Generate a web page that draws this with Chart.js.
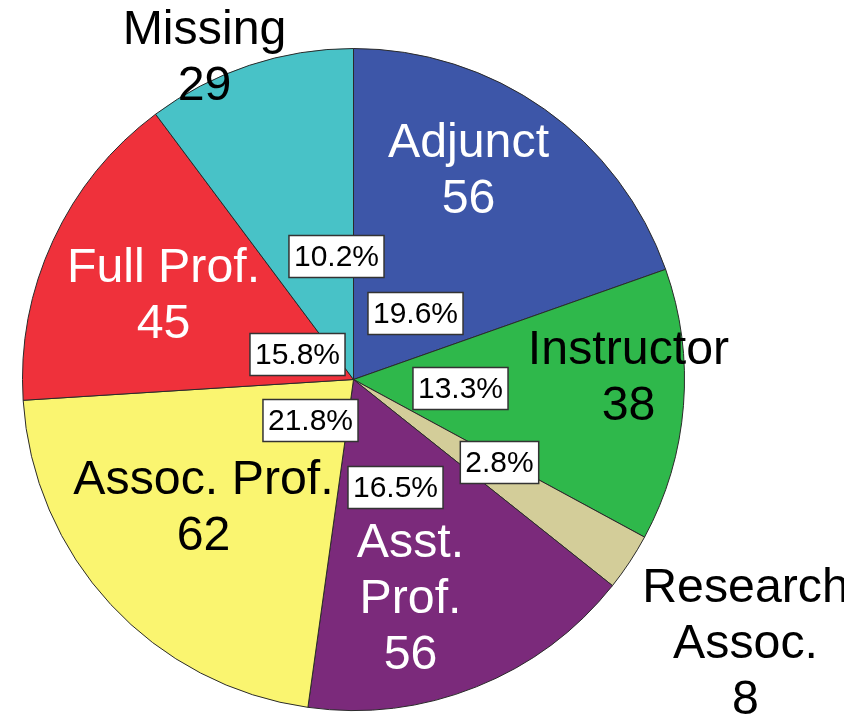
<!DOCTYPE html>
<html>
<head>
<meta charset="utf-8">
<script src="https://cdn.jsdelivr.net/npm/chart.js@4.4.1/dist/chart.umd.min.js"></script>
<style>
  html, body { margin: 0; padding: 0; background: #ffffff; }
  #wrap { width: 844px; height: 722px; position: relative; }
</style>
</head>
<body>
<div id="wrap"><canvas id="pieChart" width="844" height="722"></canvas></div>
<script>
// Slices, clockwise from 12 o'clock
const categories = ['Adjunct', 'Instructor', 'Research Assoc.', 'Asst. Prof.', 'Assoc. Prof.', 'Full Prof.', 'Missing'];
const counts = ['56', '38', '8', '56', '62', '45', '29'];     // count text printed in the chart
const percents = [19.6, 13.3, 2.8, 16.5, 21.8, 15.8, 10.2];   // slice sizes (%)

const sliceColors = ['#3d56a8', '#2fb84b', '#d3cd99', '#7b2a7b', '#faf570', '#ef313b', '#48c2c7'];
const nameColors = ['#ffffff', '#000000', '#000000', '#ffffff', '#000000', '#ffffff', '#000000'];

// Name label lines and offsets from pie centre (px)
const nameLines = [
    ['Adjunct'], ['Instructor'], ['Research', 'Assoc.'], ['Asst.', 'Prof.'],
    ['Assoc. Prof.'], ['Full Prof.'], ['Missing']
];
const nameOffsets = [[115, -236], [275, -29], [392, 209], [57, 164], [-150, 101], [-190, -111], [-149, -349]];
const pctOffsets = [[62, -66], [107, 9], [146, 83], [42, 108], [-43, 41], [-56, -25], [-17, -123]];

const labelPlugin = {
    id: 'sliceLabels',
    afterDatasetsDraw(chart) {
        const ctx = chart.ctx;
        const arc = chart.getDatasetMeta(0).data[0];
        const cx = arc.x, cy = arc.y;
        ctx.save();
        ctx.textAlign = 'center';
        ctx.textBaseline = 'middle';

        // percentage boxes
        ctx.font = '30px "Liberation Sans", Arial, sans-serif';
        percents.forEach((p, i) => {
            const txt = p.toFixed(1) + '%';
            const x = cx + pctOffsets[i][0], y = cy + pctOffsets[i][1];
            const w = ctx.measureText(txt).width + 10, h = 42;
            ctx.fillStyle = '#ffffff';
            ctx.fillRect(x - w / 2, y - h / 2, w, h);
            ctx.strokeStyle = '#333333';
            ctx.lineWidth = 1.5;
            ctx.strokeRect(x - w / 2, y - h / 2, w, h);
            ctx.fillStyle = '#000000';
            ctx.fillText(txt, x, y + 1);
        });

        // category names + counts
        ctx.font = '46px "Liberation Sans", Arial, sans-serif';
        const lineH = 56;
        categories.forEach((c, i) => {
            const lines = nameLines[i].concat([counts[i]]);
            const x = cx + nameOffsets[i][0], y0 = cy + nameOffsets[i][1];
            ctx.fillStyle = nameColors[i];
            lines.forEach((ln, k) => {
                ctx.save();
                ctx.translate(x, y0 + k * lineH);
                ctx.scale(1.05, 1.06);
                ctx.fillText(ln, 0, 0);
                ctx.restore();
            });
        });
        ctx.restore();
    }
};

const ctx = document.getElementById('pieChart').getContext('2d');
const chart = new Chart(ctx, {
    type: 'pie',
    data: {
        labels: categories,
        datasets: [{
            data: percents,
            backgroundColor: sliceColors,
            borderColor: '#2a2a2a',
            borderWidth: 1
        }]
    },
    options: {
        responsive: false,
        animation: false,
        layout: { padding: { left: 22, top: 48, right: 159, bottom: 11 } },
        plugins: {
            legend: { display: false },
            tooltip: { enabled: false }
        }
    },
    plugins: [labelPlugin]
});
</script>
</body>
</html>
